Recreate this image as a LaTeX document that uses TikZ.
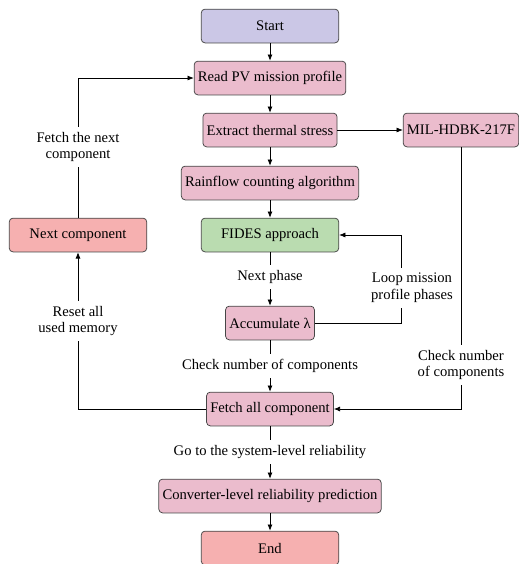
\documentclass[tikz,border=0pt]{standalone}
\usepackage{fontspec}
\setmainfont{Liberation Serif}
\usetikzlibrary{arrows,arrows.meta,shapes,calc}
\definecolor{startc}{RGB}{203,199,230}
\definecolor{procc}{RGB}{235,188,205}
\definecolor{fidesc}{RGB}{186,220,176}
\definecolor{endc}{RGB}{246,176,176}
\definecolor{edgec}{RGB}{70,70,70}
\begin{document}
\begin{tikzpicture}[x=0.8pt, y=-0.8pt, >={Latex[length=5pt,width=4pt]}, line width=0.6pt, font=\fontsize{11.7}{13.5}\selectfont,
  box/.style={draw=edgec, rounded corners=3pt, minimum height=27pt, inner xsep=3pt, fill=procc},
  wide box/.style={box, minimum width=110pt},
  lbl/.style={align=center, inner sep=4pt}]
\useasboundingbox (0,0) rectangle (519,564);
\node[wide box, fill=startc] (start) at (270,26) {Start};
\node[box] (read) at (270,78) {Read PV mission profile};
\node[box] (extract) at (270,130) {Extract thermal stress};
\node[box] (mil) at (461,130) {MIL-HDBK-217F};
\node[box] (rain) at (270,183) {Rainflow counting algorithm};
\node[wide box, fill=fidesc] (fides) at (270,235) {FIDES approach};
\node[wide box, fill=endc] (next) at (78,235) {Next component};
\node[box] (acc) at (270,323) {Accumulate λ};
\node[box] (fetch) at (270,409) {Fetch all component};
\node[box] (conv) at (270,496) {Converter-level reliability prediction};
\node[wide box, fill=endc] (end) at (270,548) {End};
\node[lbl] (fetchnext) at (78,147) {Fetch the next\\component};
\node[lbl] (reset) at (78,321) {Reset all\\used memory};
\node[lbl] (nextph) at (270,277) {Next phase};
\node[lbl] (loop) at (412,288) {Loop mission\\profile phases};
\node[lbl] (check1) at (270,366) {Check number of components};
\node[lbl] (check2) at (461,365) {Check number\\of components};
\node[lbl] (gosys) at (270,452) {Go to the system-level reliability};
\coordinate (lp) at (401,323);
\draw[->] (start) -- (read);
\draw[->] (read) -- (extract);
\draw[->] (extract) -- (rain);
\draw[->] (rain) -- (fides);
\draw[->] (extract) -- (mil);
\draw (fides) -- (nextph);
\draw[->] (nextph) -- (acc);
\draw (acc) -- (lp) -- (lp |- loop.south);
\draw[->] (lp |- loop.north) |- (fides);
\draw (acc) -- (check1);
\draw[->] (check1) -- (fetch);
\draw (mil) -- (check2);
\draw[->] (check2) |- (fetch);
\draw (fetch) -| (reset);
\draw[->] (reset) -- (next);
\draw (next) -- (fetchnext);
\draw[->] (fetchnext) |- (read);
\draw (fetch) -- (gosys);
\draw[->] (gosys) -- (conv);
\draw[->] (conv) -- (end);
\end{tikzpicture}
\end{document}
